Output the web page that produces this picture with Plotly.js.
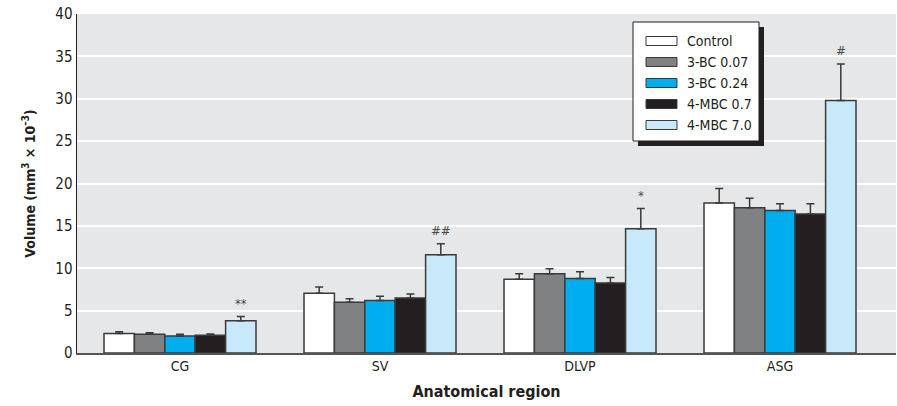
<!DOCTYPE html>
<html>
<head>
<meta charset="utf-8">
<script src="https://cdn.plot.ly/plotly-3.0.1.min.js"></script>
<style>html,body{margin:0;padding:0;background:#fff;}#chart{width:897px;height:406px;}</style>
</head>
<body>
<div id="chart"></div>
<script>
const categories = ["CG", "SV", "DLVP", "ASG"];
const seriesNames = ["Control", "3-BC 0.07", "3-BC 0.24", "4-MBC 0.7", "4-MBC 7.0"];
const seriesColors = ["#ffffff", "#808183", "#00aeef", "#231f20", "#c7e9f9"];
const control   = [2.3, 7.05, 8.7, 17.7];
const bc007     = [2.2, 6.0, 9.35, 17.15];
const bc024     = [2.0, 6.2, 8.8, 16.8];
const mbc07     = [2.1, 6.5, 8.25, 16.4];
const mbc70     = [3.8, 11.6, 14.65, 29.8];
const controlErr = [0.2, 0.75, 0.65, 1.7];
const bc007Err   = [0.2, 0.4, 0.6, 1.1];
const bc024Err   = [0.2, 0.5, 0.8, 0.8];
const mbc07Err   = [0.15, 0.45, 0.65, 1.2];
const mbc70Err   = [0.5, 1.3, 2.4, 4.3];
const sigLabels  = ["**", "##", "*", "#"];

const values = [control, bc007, bc024, mbc07, mbc70];
const errs = [controlErr, bc007Err, bc024Err, mbc07Err, mbc70Err];
const FONT = "'Liberation Sans Narrow', 'DejaVu Sans Condensed', 'Arial Narrow', sans-serif";

const traces = values.map((v, i) => ({
  type: "bar",
  name: seriesNames[i],
  x: categories,
  y: v,
  marker: {color: seriesColors[i], line: {color: "#3a3a3a", width: 1.5}},
  error_y: {type: "data", array: errs[i], symmetric: false, arrayminus: v.map(() => 0),
            color: "#3a3a3a", thickness: 1.5, width: 4},
  showlegend: false,
  hoverinfo: "y"
}));

const barW = 0.76 / 5;
const annotations = categories.map((c, j) => ({
  x: j + 2 * barW, y: mbc70[j] + mbc70Err[j], xref: "x", yref: "y",
  text: sigLabels[j], showarrow: false, yanchor: "bottom", yshift: 4,
  font: {family: FONT, size: 13, color: "#4a4a4a"}
}));

// custom legend (pixel positions converted to paper = plot-area fractions)
const ML = 77, MR = 1, MT = 14, MB = 53, W = 897, H = 406;
const PW = W - ML - MR, PH = H - MT - MB;
const px = x => (x - ML) / PW, py = y => (H - MB - y) / PH;
const shapes = [];
const lx0 = 633, lx1 = 759, ly0 = 22, ly1 = 141;
shapes.push({type: "rect", xref: "paper", yref: "paper", x0: px(lx0 + 5), x1: px(lx1 + 5), y0: py(ly1 + 5), y1: py(ly0 + 5), fillcolor: "#231f20", line: {width: 0}, layer: "above"});
shapes.push({type: "rect", xref: "paper", yref: "paper", x0: px(lx0), x1: px(lx1), y0: py(ly1), y1: py(ly0), fillcolor: "#ffffff", line: {color: "#231f20", width: 1}, layer: "above"});
seriesNames.forEach((n, i) => {
  const cy = 41 + i * 21;
  shapes.push({type: "rect", xref: "paper", yref: "paper", x0: px(646), x1: px(677), y0: py(cy + 4.5), y1: py(cy - 4.5),
    fillcolor: seriesColors[i], line: {color: "#3a3a3a", width: 1}, layer: "above"});
  annotations.push({xref: "paper", yref: "paper", x: px(685), y: py(cy), xanchor: "left", yanchor: "middle",
    text: n, showarrow: false, font: {family: FONT, size: 14, color: "#231f20"}});
});

const layout = {
  width: W, height: H,
  margin: {l: ML, r: MR, t: MT, b: MB},
  paper_bgcolor: "#ffffff",
  plot_bgcolor: "#e6e7e8",
  barmode: "group",
  bargap: 0.24,
  bargroupgap: 0,
  font: {family: FONT, color: "#231f20"},
  xaxis: {
    type: "category",
    range: [-0.515, 3.58],
    showgrid: false,
    showline: true, linecolor: "#555", linewidth: 1.5,
    ticks: "",
    tickfont: {family: FONT, size: 14, color: "#231f20"},
    title: {text: "<b>Anatomical region</b>", font: {family: FONT, size: 16, color: "#231f20"}, standoff: 12}
  },
  yaxis: {
    range: [0, 40],
    dtick: 5,
    showgrid: true, gridcolor: "#ffffff", gridwidth: 2,
    zeroline: false,
    showline: true, linecolor: "#231f20", linewidth: 1.5,
    ticks: "",
    ticklen: 0,
    tickfont: {family: FONT, size: 15, color: "#231f20"},
    title: {text: "<b>Volume (mm<sup>3</sup> × 10<sup>–3</sup>)</b>", font: {family: FONT, size: 14, color: "#231f20"}, standoff: 16}
  },
  annotations: annotations,
  shapes: shapes
};

Plotly.newPlot("chart", traces, layout, {displayModeBar: false, staticPlot: true});
</script>
</body>
</html>
